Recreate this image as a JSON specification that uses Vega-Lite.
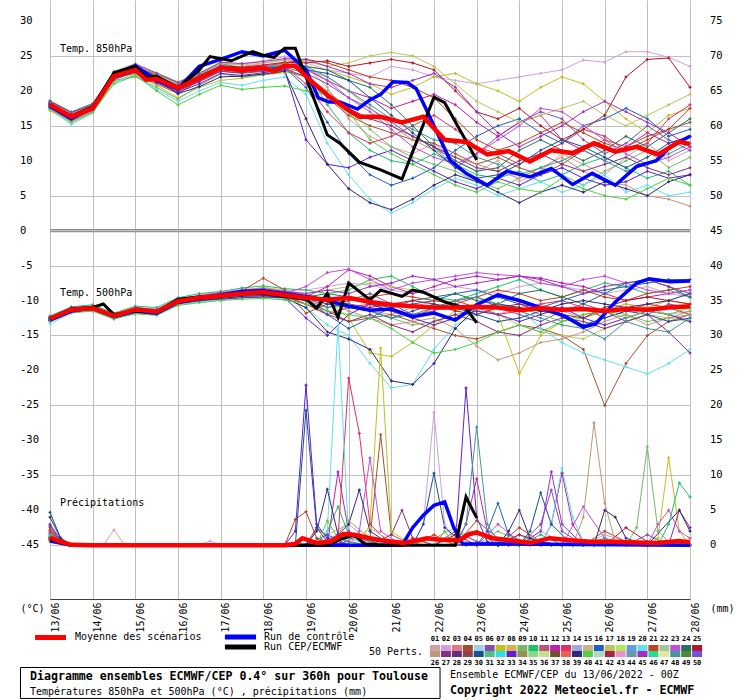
{
"$schema": "https://vega.github.io/schema/vega-lite/v6.json",
"width": 640, "height": 599,
"autosize": "none",
"padding": {"left": 50, "top": 0, "right": 50, "bottom": 101},
"background": "white",
"config": {"view": {"stroke": null}, "font": "DejaVu Sans Mono",
 "range": {"category": ["#d4a0a8","#d0a0e0","#e07880","#a05030","#a0d0e8","#8050b0","#c0c020","#d8b050","#78b868","#20c070","#c05078","#c020b0","#e03060","#a0a8e0","#c8b088","#2060c0","#c0c060","#b0e858","#60a0d8","#60e0f0","#c04020","#a0c898","#c050d8","#287060","#b01828","#c09878","#883080","#603080","#904050","#185090","#50c088","#30e0e0","#6020d0","#989050","#88d888","#c0e088","#705028","#e86058","#302878","#50d040","#b0d8c0","#a02840","#e890d0","#6898b0","#a030c0","#20e090","#e0e8a0","#409898","#508838","#7050e8"]}},
"datasets": {
"yt": [
{"v":30,"l":"30","r":"75"},{"v":25,"l":"25","r":"70"},{"v":20,"l":"20","r":"65"},{"v":15,"l":"15","r":"60"},{"v":10,"l":"10","r":"55"},{"v":5,"l":"5","r":"50"},{"v":0,"l":"0","r":"45"},{"v":-5,"l":"-5","r":"40"},{"v":-10,"l":"-10","r":"35"},{"v":-15,"l":"-15","r":"30"},{"v":-20,"l":"-20","r":"25"},{"v":-25,"l":"-25","r":"20"},{"v":-30,"l":"-30","r":"15"},{"v":-35,"l":"-35","r":"10"},{"v":-40,"l":"-40","r":"5"},{"v":-45,"l":"-45","r":"0"}
],
"ens": [
{"m":1,"h":0,"a":18.4,"b":-12.8},{"m":1,"h":12,"a":16.8,"b":-11.5},{"m":1,"h":24,"a":17.9,"b":-11.3},{"m":1,"h":36,"a":22.5,"b":-12.3},{"m":1,"h":48,"a":23.6,"b":-11.4},{"m":1,"h":60,"a":22.3,"b":-11.7},{"m":1,"h":72,"a":20.9,"b":-10.3},{"m":1,"h":84,"a":22.0,"b":-9.8},{"m":1,"h":96,"a":23.6,"b":-9.4},{"m":1,"h":108,"a":23.5,"b":-9.2},{"m":1,"h":120,"a":23.9,"b":-9.0},{"m":1,"h":132,"a":24.5,"b":-9.5},{"m":1,"h":144,"a":23.5,"b":-10.0},{"m":1,"h":156,"a":20.5,"b":-10.5},{"m":1,"h":168,"a":16.0,"b":-11.0},{"m":1,"h":180,"a":13.5,"b":-11.5},{"m":1,"h":192,"a":12.0,"b":-12.0},{"m":1,"h":204,"a":11.0,"b":-11.0},{"m":1,"h":216,"a":12.5,"b":-10.0},{"m":1,"h":228,"a":10.0,"b":-10.5},{"m":1,"h":240,"a":8.5,"b":-11.5},{"m":1,"h":252,"a":10.0,"b":-12.0},{"m":1,"h":264,"a":7.0,"b":-11.0},{"m":1,"h":276,"a":8.5,"b":-10.5},{"m":1,"h":288,"a":11.0,"b":-11.5},{"m":1,"h":300,"a":9.5,"b":-12.5},{"m":1,"h":312,"a":8.0,"b":-11.5},{"m":1,"h":324,"a":10.5,"b":-10.5},{"m":1,"h":336,"a":12.5,"b":-11.0},{"m":1,"h":348,"a":10.0,"b":-12.0},{"m":1,"h":360,"a":11.5,"b":-11.5},
{"m":2,"h":0,"a":17.6,"b":-12.3},{"m":2,"h":12,"a":15.9,"b":-11.0},{"m":2,"h":24,"a":17.1,"b":-10.8},{"m":2,"h":36,"a":21.8,"b":-11.9},{"m":2,"h":48,"a":22.8,"b":-11.0},{"m":2,"h":60,"a":22.1,"b":-11.2},{"m":2,"h":72,"a":21.0,"b":-9.8},{"m":2,"h":84,"a":22.6,"b":-9.2},{"m":2,"h":96,"a":23.8,"b":-8.8},{"m":2,"h":108,"a":23.8,"b":-8.4},{"m":2,"h":120,"a":24.3,"b":-8.2},{"m":2,"h":132,"a":24.9,"b":-8.5},{"m":2,"h":144,"a":24.0,"b":-8.5},{"m":2,"h":156,"a":23.0,"b":-8.0},{"m":2,"h":168,"a":22.5,"b":-7.5},{"m":2,"h":180,"a":22.0,"b":-7.8},{"m":2,"h":192,"a":23.5,"b":-8.5},{"m":2,"h":204,"a":23.0,"b":-9.0},{"m":2,"h":216,"a":22.0,"b":-8.5},{"m":2,"h":228,"a":21.5,"b":-8.0},{"m":2,"h":240,"a":21.0,"b":-8.5},{"m":2,"h":252,"a":21.5,"b":-9.0},{"m":2,"h":264,"a":22.0,"b":-8.0},{"m":2,"h":276,"a":22.5,"b":-7.5},{"m":2,"h":288,"a":23.0,"b":-8.0},{"m":2,"h":300,"a":24.4,"b":-8.5},{"m":2,"h":312,"a":24.1,"b":-9.0},{"m":2,"h":324,"a":25.6,"b":-8.5},{"m":2,"h":336,"a":25.6,"b":-8.0},{"m":2,"h":348,"a":24.8,"b":-9.0},{"m":2,"h":360,"a":23.5,"b":-9.5},
{"m":4,"h":0,"a":18.2,"b":-12.5},{"m":4,"h":12,"a":16.0,"b":-11.4},{"m":4,"h":24,"a":17.4,"b":-11.2},{"m":4,"h":36,"a":21.9,"b":-12.1},{"m":4,"h":48,"a":22.5,"b":-11.5},{"m":4,"h":60,"a":21.0,"b":-11.8},{"m":4,"h":72,"a":19.6,"b":-10.4},{"m":4,"h":84,"a":21.5,"b":-9.9},{"m":4,"h":96,"a":22.8,"b":-9.6},{"m":4,"h":108,"a":22.5,"b":-9.3},{"m":4,"h":120,"a":22.8,"b":-9.2},{"m":4,"h":132,"a":22.9,"b":-9.5},{"m":4,"h":144,"a":22.0,"b":-10.5},{"m":4,"h":156,"a":19.0,"b":-12.0},{"m":4,"h":168,"a":16.5,"b":-13.0},{"m":4,"h":180,"a":15.0,"b":-12.5},{"m":4,"h":192,"a":14.0,"b":-12.0},{"m":4,"h":204,"a":13.0,"b":-13.0},{"m":4,"h":216,"a":12.5,"b":-14.0},{"m":4,"h":228,"a":11.0,"b":-15.0},{"m":4,"h":240,"a":9.5,"b":-15.5},{"m":4,"h":252,"a":10.5,"b":-14.5},{"m":4,"h":264,"a":9.0,"b":-13.5},{"m":4,"h":276,"a":8.0,"b":-14.0},{"m":4,"h":288,"a":9.5,"b":-15.0},{"m":4,"h":300,"a":11.5,"b":-17.0},{"m":4,"h":312,"a":13.0,"b":-25.0},{"m":4,"h":324,"a":12.0,"b":-19.0},{"m":4,"h":336,"a":13.5,"b":-15.0},{"m":4,"h":348,"a":14.5,"b":-13.0},{"m":4,"h":360,"a":15.5,"b":-12.0},
{"m":6,"h":0,"a":17.9,"b":-12.7},{"m":6,"h":12,"a":16.5,"b":-11.2},{"m":6,"h":24,"a":17.6,"b":-11.0},{"m":6,"h":36,"a":22.0,"b":-12.4},{"m":6,"h":48,"a":23.2,"b":-11.2},{"m":6,"h":60,"a":21.8,"b":-11.4},{"m":6,"h":72,"a":20.5,"b":-10.0},{"m":6,"h":84,"a":22.0,"b":-9.5},{"m":6,"h":96,"a":23.5,"b":-9.1},{"m":6,"h":108,"a":22.8,"b":-8.9},{"m":6,"h":120,"a":23.6,"b":-8.5},{"m":6,"h":132,"a":23.4,"b":-9.0},{"m":6,"h":144,"a":22.5,"b":-9.5},{"m":6,"h":156,"a":21.0,"b":-11.0},{"m":6,"h":168,"a":19.0,"b":-10.0},{"m":6,"h":180,"a":17.5,"b":-9.0},{"m":6,"h":192,"a":15.5,"b":-10.5},{"m":6,"h":204,"a":13.5,"b":-12.0},{"m":6,"h":216,"a":12.0,"b":-11.5},{"m":6,"h":228,"a":9.0,"b":-10.0},{"m":6,"h":240,"a":11.0,"b":-9.5},{"m":6,"h":252,"a":13.5,"b":-11.0},{"m":6,"h":264,"a":15.5,"b":-12.0},{"m":6,"h":276,"a":17.0,"b":-13.0},{"m":6,"h":288,"a":16.0,"b":-11.5},{"m":6,"h":300,"a":13.0,"b":-10.5},{"m":6,"h":312,"a":11.0,"b":-11.5},{"m":6,"h":324,"a":12.5,"b":-13.0},{"m":6,"h":336,"a":15.0,"b":-12.0},{"m":6,"h":348,"a":13.0,"b":-10.5},{"m":6,"h":360,"a":11.5,"b":-11.0},
{"m":7,"h":0,"a":17.2,"b":-12.4},{"m":7,"h":12,"a":15.4,"b":-11.2},{"m":7,"h":24,"a":16.9,"b":-10.9},{"m":7,"h":36,"a":21.3,"b":-12.0},{"m":7,"h":48,"a":22.4,"b":-11.1},{"m":7,"h":60,"a":20.8,"b":-11.5},{"m":7,"h":72,"a":19.0,"b":-9.9},{"m":7,"h":84,"a":20.5,"b":-9.4},{"m":7,"h":96,"a":21.5,"b":-9.0},{"m":7,"h":108,"a":21.8,"b":-8.6},{"m":7,"h":120,"a":22.3,"b":-8.1},{"m":7,"h":132,"a":22.6,"b":-8.6},{"m":7,"h":144,"a":23.5,"b":-9.0},{"m":7,"h":156,"a":23.0,"b":-10.0},{"m":7,"h":168,"a":22.0,"b":-12.5},{"m":7,"h":180,"a":21.0,"b":-17.5},{"m":7,"h":192,"a":19.5,"b":-18.0},{"m":7,"h":204,"a":20.5,"b":-16.0},{"m":7,"h":216,"a":22.0,"b":-13.5},{"m":7,"h":228,"a":22.5,"b":-11.5},{"m":7,"h":240,"a":21.0,"b":-10.5},{"m":7,"h":252,"a":20.0,"b":-12.0},{"m":7,"h":264,"a":18.5,"b":-20.5},{"m":7,"h":276,"a":20.5,"b":-15.0},{"m":7,"h":288,"a":22.0,"b":-13.0},{"m":7,"h":300,"a":21.0,"b":-12.0},{"m":7,"h":312,"a":18.5,"b":-11.5},{"m":7,"h":324,"a":16.0,"b":-10.5},{"m":7,"h":336,"a":14.0,"b":-11.0},{"m":7,"h":348,"a":16.5,"b":-10.0},{"m":7,"h":360,"a":17.5,"b":-10.5},
{"m":9,"h":0,"a":17.8,"b":-12.9},{"m":9,"h":12,"a":16.6,"b":-11.6},{"m":9,"h":24,"a":17.8,"b":-11.4},{"m":9,"h":36,"a":21.5,"b":-12.5},{"m":9,"h":48,"a":22.0,"b":-11.6},{"m":9,"h":60,"a":20.5,"b":-11.9},{"m":9,"h":72,"a":18.8,"b":-10.5},{"m":9,"h":84,"a":20.8,"b":-10.0},{"m":9,"h":96,"a":22.4,"b":-9.7},{"m":9,"h":108,"a":22.0,"b":-9.5},{"m":9,"h":120,"a":22.3,"b":-9.4},{"m":9,"h":132,"a":22.8,"b":-9.7},{"m":9,"h":144,"a":22.0,"b":-10.0},{"m":9,"h":156,"a":20.0,"b":-9.5},{"m":9,"h":168,"a":17.5,"b":-10.5},{"m":9,"h":180,"a":14.5,"b":-11.5},{"m":9,"h":192,"a":12.0,"b":-12.5},{"m":9,"h":204,"a":10.5,"b":-13.5},{"m":9,"h":216,"a":9.5,"b":-13.0},{"m":9,"h":228,"a":8.5,"b":-12.0},{"m":9,"h":240,"a":7.0,"b":-11.5},{"m":9,"h":252,"a":6.0,"b":-10.5},{"m":9,"h":264,"a":7.5,"b":-11.0},{"m":9,"h":276,"a":9.0,"b":-12.0},{"m":9,"h":288,"a":8.0,"b":-13.0},{"m":9,"h":300,"a":6.5,"b":-12.5},{"m":9,"h":312,"a":8.5,"b":-11.5},{"m":9,"h":324,"a":10.0,"b":-12.0},{"m":9,"h":336,"a":11.5,"b":-13.0},{"m":9,"h":348,"a":9.0,"b":-12.5},{"m":9,"h":360,"a":10.5,"b":-11.5},
{"m":10,"h":0,"a":18.6,"b":-12.2},{"m":10,"h":12,"a":17.0,"b":-10.9},{"m":10,"h":24,"a":18.2,"b":-10.6},{"m":10,"h":36,"a":22.6,"b":-11.8},{"m":10,"h":48,"a":23.4,"b":-10.8},{"m":10,"h":60,"a":22.4,"b":-11.0},{"m":10,"h":72,"a":21.1,"b":-9.6},{"m":10,"h":84,"a":22.3,"b":-9.0},{"m":10,"h":96,"a":23.9,"b":-8.7},{"m":10,"h":108,"a":23.3,"b":-8.2},{"m":10,"h":120,"a":23.5,"b":-7.9},{"m":10,"h":132,"a":24.0,"b":-8.3},{"m":10,"h":144,"a":23.0,"b":-8.5},{"m":10,"h":156,"a":18.0,"b":-9.0},{"m":10,"h":168,"a":14.0,"b":-8.5},{"m":10,"h":180,"a":11.5,"b":-7.0},{"m":10,"h":192,"a":10.0,"b":-6.5},{"m":10,"h":204,"a":9.5,"b":-8.0},{"m":10,"h":216,"a":11.0,"b":-9.5},{"m":10,"h":228,"a":9.5,"b":-10.0},{"m":10,"h":240,"a":8.0,"b":-9.0},{"m":10,"h":252,"a":7.5,"b":-8.0},{"m":10,"h":264,"a":8.5,"b":-7.0},{"m":10,"h":276,"a":7.0,"b":-8.5},{"m":10,"h":288,"a":8.0,"b":-9.5},{"m":10,"h":300,"a":9.5,"b":-8.5},{"m":10,"h":312,"a":10.5,"b":-7.5},{"m":10,"h":324,"a":9.0,"b":-8.0},{"m":10,"h":336,"a":7.5,"b":-9.0},{"m":10,"h":348,"a":8.5,"b":-8.5},{"m":10,"h":360,"a":6.5,"b":-9.5},
{"m":12,"h":0,"a":18.0,"b":-12.6},{"m":12,"h":12,"a":16.1,"b":-11.3},{"m":12,"h":24,"a":17.3,"b":-11.1},{"m":12,"h":36,"a":22.4,"b":-12.3},{"m":12,"h":48,"a":23.3,"b":-11.3},{"m":12,"h":60,"a":21.9,"b":-11.7},{"m":12,"h":72,"a":20.2,"b":-10.2},{"m":12,"h":84,"a":21.5,"b":-9.7},{"m":12,"h":96,"a":23.1,"b":-9.2},{"m":12,"h":108,"a":23.2,"b":-9.0},{"m":12,"h":120,"a":23.4,"b":-8.8},{"m":12,"h":132,"a":23.8,"b":-9.1},{"m":12,"h":144,"a":23.2,"b":-9.5},{"m":12,"h":156,"a":21.5,"b":-8.0},{"m":12,"h":168,"a":20.0,"b":-5.6},{"m":12,"h":180,"a":19.0,"b":-6.5},{"m":12,"h":192,"a":17.5,"b":-8.0},{"m":12,"h":204,"a":18.5,"b":-9.0},{"m":12,"h":216,"a":19.5,"b":-8.0},{"m":12,"h":228,"a":18.0,"b":-7.0},{"m":12,"h":240,"a":15.5,"b":-6.5},{"m":12,"h":252,"a":13.5,"b":-7.0},{"m":12,"h":264,"a":15.5,"b":-6.5},{"m":12,"h":276,"a":16.5,"b":-6.8},{"m":12,"h":288,"a":13.0,"b":-7.5},{"m":12,"h":300,"a":11.5,"b":-8.0},{"m":12,"h":312,"a":10.0,"b":-9.0},{"m":12,"h":324,"a":12.0,"b":-10.0},{"m":12,"h":336,"a":14.0,"b":-9.5},{"m":12,"h":348,"a":12.5,"b":-9.0},{"m":12,"h":360,"a":13.5,"b":-8.5},
{"m":13,"h":0,"a":17.5,"b":-12.7},{"m":13,"h":12,"a":15.7,"b":-11.4},{"m":13,"h":24,"a":17.0,"b":-11.2},{"m":13,"h":36,"a":21.7,"b":-12.2},{"m":13,"h":48,"a":22.9,"b":-11.4},{"m":13,"h":60,"a":21.4,"b":-11.6},{"m":13,"h":72,"a":20.0,"b":-10.2},{"m":13,"h":84,"a":21.4,"b":-9.8},{"m":13,"h":96,"a":23.0,"b":-9.5},{"m":13,"h":108,"a":22.7,"b":-9.1},{"m":13,"h":120,"a":23.1,"b":-9.0},{"m":13,"h":132,"a":23.5,"b":-9.3},{"m":13,"h":144,"a":21.0,"b":-10.5},{"m":13,"h":156,"a":17.0,"b":-12.0},{"m":13,"h":168,"a":14.0,"b":-11.0},{"m":13,"h":180,"a":12.5,"b":-10.5},{"m":13,"h":192,"a":13.5,"b":-11.5},{"m":13,"h":204,"a":15.0,"b":-12.5},{"m":13,"h":216,"a":16.5,"b":-11.0},{"m":13,"h":228,"a":14.5,"b":-10.0},{"m":13,"h":240,"a":12.0,"b":-11.0},{"m":13,"h":252,"a":11.0,"b":-12.0},{"m":13,"h":264,"a":9.5,"b":-11.5},{"m":13,"h":276,"a":11.0,"b":-10.5},{"m":13,"h":288,"a":12.5,"b":-10.0},{"m":13,"h":300,"a":14.5,"b":-11.0},{"m":13,"h":312,"a":13.5,"b":-12.5},{"m":13,"h":324,"a":11.5,"b":-11.5},{"m":13,"h":336,"a":12.5,"b":-10.5},{"m":13,"h":348,"a":16.0,"b":-11.0},{"m":13,"h":360,"a":18.0,"b":-12.0},
{"m":16,"h":0,"a":18.1,"b":-12.5},{"m":16,"h":12,"a":16.4,"b":-11.2},{"m":16,"h":24,"a":17.6,"b":-11.0},{"m":16,"h":36,"a":22.2,"b":-12.1},{"m":16,"h":48,"a":23.1,"b":-11.2},{"m":16,"h":60,"a":21.6,"b":-11.5},{"m":16,"h":72,"a":20.3,"b":-10.0},{"m":16,"h":84,"a":21.9,"b":-9.5},{"m":16,"h":96,"a":23.4,"b":-9.2},{"m":16,"h":108,"a":22.9,"b":-8.9},{"m":16,"h":120,"a":23.2,"b":-8.6},{"m":16,"h":132,"a":23.3,"b":-9.0},{"m":16,"h":144,"a":20.5,"b":-9.8},{"m":16,"h":156,"a":15.5,"b":-12.0},{"m":16,"h":168,"a":11.0,"b":-14.0},{"m":16,"h":180,"a":8.0,"b":-12.5},{"m":16,"h":192,"a":6.5,"b":-11.0},{"m":16,"h":204,"a":7.5,"b":-10.5},{"m":16,"h":216,"a":9.0,"b":-10.0},{"m":16,"h":228,"a":11.5,"b":-9.0},{"m":16,"h":240,"a":13.5,"b":-8.5},{"m":16,"h":252,"a":15.0,"b":-9.5},{"m":16,"h":264,"a":16.0,"b":-10.5},{"m":16,"h":276,"a":14.0,"b":-11.0},{"m":16,"h":288,"a":12.5,"b":-10.0},{"m":16,"h":300,"a":15.0,"b":-9.0},{"m":16,"h":312,"a":16.0,"b":-8.5},{"m":16,"h":324,"a":17.5,"b":-8.0},{"m":16,"h":336,"a":16.0,"b":-7.5},{"m":16,"h":348,"a":13.5,"b":-7.0},{"m":16,"h":360,"a":14.5,"b":-7.0},
{"m":17,"h":0,"a":18.3,"b":-12.4},{"m":17,"h":12,"a":16.7,"b":-11.1},{"m":17,"h":24,"a":17.7,"b":-10.8},{"m":17,"h":36,"a":22.8,"b":-11.9},{"m":17,"h":48,"a":23.9,"b":-11.0},{"m":17,"h":60,"a":22.6,"b":-11.3},{"m":17,"h":72,"a":21.3,"b":-9.8},{"m":17,"h":84,"a":22.6,"b":-9.3},{"m":17,"h":96,"a":24.0,"b":-9.0},{"m":17,"h":108,"a":23.7,"b":-8.7},{"m":17,"h":120,"a":24.0,"b":-8.5},{"m":17,"h":132,"a":24.4,"b":-8.8},{"m":17,"h":144,"a":24.2,"b":-9.0},{"m":17,"h":156,"a":23.5,"b":-8.5},{"m":17,"h":168,"a":24.0,"b":-8.0},{"m":17,"h":180,"a":25.0,"b":-7.5},{"m":17,"h":192,"a":25.5,"b":-8.0},{"m":17,"h":204,"a":25.0,"b":-8.5},{"m":17,"h":216,"a":23.5,"b":-9.5},{"m":17,"h":228,"a":21.0,"b":-10.5},{"m":17,"h":240,"a":18.5,"b":-11.5},{"m":17,"h":252,"a":17.0,"b":-12.0},{"m":17,"h":264,"a":15.5,"b":-13.5},{"m":17,"h":276,"a":16.5,"b":-14.5},{"m":17,"h":288,"a":17.5,"b":-15.0},{"m":17,"h":300,"a":18.5,"b":-15.5},{"m":17,"h":312,"a":16.5,"b":-14.0},{"m":17,"h":324,"a":15.0,"b":-13.0},{"m":17,"h":336,"a":16.5,"b":-12.0},{"m":17,"h":348,"a":18.0,"b":-12.5},{"m":17,"h":360,"a":19.5,"b":-13.0},
{"m":20,"h":0,"a":17.4,"b":-13.3},{"m":20,"h":12,"a":15.2,"b":-11.8},{"m":20,"h":24,"a":16.8,"b":-11.5},{"m":20,"h":36,"a":21.2,"b":-12.7},{"m":20,"h":48,"a":22.3,"b":-11.8},{"m":20,"h":60,"a":20.2,"b":-12.1},{"m":20,"h":72,"a":18.5,"b":-10.6},{"m":20,"h":84,"a":20.0,"b":-10.2},{"m":20,"h":96,"a":21.2,"b":-9.9},{"m":20,"h":108,"a":20.8,"b":-9.6},{"m":20,"h":120,"a":21.5,"b":-9.5},{"m":20,"h":132,"a":22.0,"b":-9.8},{"m":20,"h":144,"a":19.5,"b":-11.0},{"m":20,"h":156,"a":12.5,"b":-13.5},{"m":20,"h":168,"a":8.0,"b":-15.0},{"m":20,"h":180,"a":4.5,"b":-19.0},{"m":20,"h":192,"a":2.5,"b":-22.5},{"m":20,"h":204,"a":4.0,"b":-22.0},{"m":20,"h":216,"a":6.0,"b":-17.0},{"m":20,"h":228,"a":7.5,"b":-13.5},{"m":20,"h":240,"a":6.5,"b":-12.0},{"m":20,"h":252,"a":5.0,"b":-10.5},{"m":20,"h":264,"a":6.0,"b":-11.0},{"m":20,"h":276,"a":7.0,"b":-14.0},{"m":20,"h":288,"a":5.5,"b":-16.0},{"m":20,"h":300,"a":6.5,"b":-17.5},{"m":20,"h":312,"a":8.0,"b":-18.5},{"m":20,"h":324,"a":5.5,"b":-19.5},{"m":20,"h":336,"a":6.5,"b":-20.5},{"m":20,"h":348,"a":5.0,"b":-19.0},{"m":20,"h":360,"a":5.5,"b":-17.0},
{"m":21,"h":0,"a":18.5,"b":-12.5},{"m":21,"h":12,"a":16.9,"b":-11.1},{"m":21,"h":24,"a":18.0,"b":-10.9},{"m":21,"h":36,"a":22.3,"b":-12.0},{"m":21,"h":48,"a":23.4,"b":-11.1},{"m":21,"h":60,"a":22.2,"b":-11.4},{"m":21,"h":72,"a":20.7,"b":-9.9},{"m":21,"h":84,"a":22.1,"b":-9.4},{"m":21,"h":96,"a":23.5,"b":-9.0},{"m":21,"h":108,"a":23.3,"b":-8.6},{"m":21,"h":120,"a":23.5,"b":-6.8},{"m":21,"h":132,"a":24.0,"b":-8.5},{"m":21,"h":144,"a":24.5,"b":-11.8},{"m":21,"h":156,"a":24.0,"b":-10.5},{"m":21,"h":168,"a":23.0,"b":-10.0},{"m":21,"h":180,"a":22.0,"b":-9.5},{"m":21,"h":192,"a":21.5,"b":-9.0},{"m":21,"h":204,"a":20.5,"b":-9.5},{"m":21,"h":216,"a":19.0,"b":-10.0},{"m":21,"h":228,"a":16.0,"b":-10.5},{"m":21,"h":240,"a":13.0,"b":-9.5},{"m":21,"h":252,"a":11.5,"b":-8.5},{"m":21,"h":264,"a":12.5,"b":-9.0},{"m":21,"h":276,"a":14.0,"b":-10.0},{"m":21,"h":288,"a":15.5,"b":-9.5},{"m":21,"h":300,"a":14.0,"b":-8.5},{"m":21,"h":312,"a":12.5,"b":-9.5},{"m":21,"h":324,"a":11.5,"b":-10.0},{"m":21,"h":336,"a":13.0,"b":-9.0},{"m":21,"h":348,"a":14.5,"b":-8.5},{"m":21,"h":360,"a":17.5,"b":-8.0},
{"m":23,"h":0,"a":18.0,"b":-12.6},{"m":23,"h":12,"a":16.2,"b":-11.4},{"m":23,"h":24,"a":17.5,"b":-11.0},{"m":23,"h":36,"a":22.0,"b":-12.2},{"m":23,"h":48,"a":23.1,"b":-11.3},{"m":23,"h":60,"a":22.0,"b":-11.6},{"m":23,"h":72,"a":20.6,"b":-10.1},{"m":23,"h":84,"a":21.8,"b":-9.7},{"m":23,"h":96,"a":23.2,"b":-9.3},{"m":23,"h":108,"a":23.0,"b":-8.9},{"m":23,"h":120,"a":23.6,"b":-8.7},{"m":23,"h":132,"a":23.7,"b":-9.0},{"m":23,"h":144,"a":23.0,"b":-8.0},{"m":23,"h":156,"a":21.5,"b":-6.0},{"m":23,"h":168,"a":19.0,"b":-5.5},{"m":23,"h":180,"a":17.0,"b":-7.0},{"m":23,"h":192,"a":14.5,"b":-8.5},{"m":23,"h":204,"a":12.0,"b":-7.5},{"m":23,"h":216,"a":10.5,"b":-7.0},{"m":23,"h":228,"a":9.5,"b":-6.5},{"m":23,"h":240,"a":11.0,"b":-6.0},{"m":23,"h":252,"a":13.0,"b":-6.3},{"m":23,"h":264,"a":15.0,"b":-6.5},{"m":23,"h":276,"a":17.5,"b":-7.5},{"m":23,"h":288,"a":17.0,"b":-8.0},{"m":23,"h":300,"a":15.0,"b":-7.0},{"m":23,"h":312,"a":13.0,"b":-6.5},{"m":23,"h":324,"a":11.0,"b":-7.5},{"m":23,"h":336,"a":9.5,"b":-8.5},{"m":23,"h":348,"a":10.5,"b":-9.0},{"m":23,"h":360,"a":12.0,"b":-8.5},
{"m":24,"h":0,"a":17.7,"b":-12.8},{"m":24,"h":12,"a":16.1,"b":-11.6},{"m":24,"h":24,"a":17.2,"b":-11.3},{"m":24,"h":36,"a":21.9,"b":-12.4},{"m":24,"h":48,"a":22.8,"b":-11.5},{"m":24,"h":60,"a":21.5,"b":-11.8},{"m":24,"h":72,"a":20.3,"b":-10.3},{"m":24,"h":84,"a":21.7,"b":-9.7},{"m":24,"h":96,"a":23.1,"b":-9.4},{"m":24,"h":108,"a":22.8,"b":-9.1},{"m":24,"h":120,"a":23.0,"b":-9.0},{"m":24,"h":132,"a":23.4,"b":-9.3},{"m":24,"h":144,"a":23.5,"b":-9.5},{"m":24,"h":156,"a":23.0,"b":-9.0},{"m":24,"h":168,"a":21.5,"b":-9.5},{"m":24,"h":180,"a":20.5,"b":-10.5},{"m":24,"h":192,"a":18.0,"b":-11.0},{"m":24,"h":204,"a":15.0,"b":-10.0},{"m":24,"h":216,"a":12.0,"b":-9.5},{"m":24,"h":228,"a":10.0,"b":-9.0},{"m":24,"h":240,"a":8.5,"b":-10.0},{"m":24,"h":252,"a":9.0,"b":-10.5},{"m":24,"h":264,"a":11.5,"b":-9.0},{"m":24,"h":276,"a":13.0,"b":-8.5},{"m":24,"h":288,"a":11.5,"b":-9.5},{"m":24,"h":300,"a":10.0,"b":-10.5},{"m":24,"h":312,"a":11.5,"b":-9.0},{"m":24,"h":324,"a":13.5,"b":-7.5},{"m":24,"h":336,"a":12.0,"b":-7.0},{"m":24,"h":348,"a":14.0,"b":-8.0},{"m":24,"h":360,"a":16.0,"b":-9.5},
{"m":25,"h":0,"a":18.2,"b":-12.4},{"m":25,"h":12,"a":16.5,"b":-11.1},{"m":25,"h":24,"a":17.7,"b":-10.9},{"m":25,"h":36,"a":22.5,"b":-12.0},{"m":25,"h":48,"a":23.5,"b":-11.2},{"m":25,"h":60,"a":22.0,"b":-11.4},{"m":25,"h":72,"a":20.8,"b":-10.0},{"m":25,"h":84,"a":22.2,"b":-9.5},{"m":25,"h":96,"a":23.6,"b":-9.1},{"m":25,"h":108,"a":23.4,"b":-8.8},{"m":25,"h":120,"a":23.7,"b":-8.6},{"m":25,"h":132,"a":24.1,"b":-8.9},{"m":25,"h":144,"a":24.0,"b":-9.5},{"m":25,"h":156,"a":24.3,"b":-10.0},{"m":25,"h":168,"a":23.5,"b":-10.5},{"m":25,"h":180,"a":24.0,"b":-11.0},{"m":25,"h":192,"a":24.5,"b":-10.5},{"m":25,"h":204,"a":24.0,"b":-10.0},{"m":25,"h":216,"a":23.0,"b":-10.5},{"m":25,"h":228,"a":20.0,"b":-11.5},{"m":25,"h":240,"a":17.0,"b":-12.0},{"m":25,"h":252,"a":16.0,"b":-11.0},{"m":25,"h":264,"a":17.5,"b":-10.5},{"m":25,"h":276,"a":15.0,"b":-11.5},{"m":25,"h":288,"a":13.0,"b":-12.0},{"m":25,"h":300,"a":14.5,"b":-12.5},{"m":25,"h":312,"a":16.5,"b":-11.0},{"m":25,"h":324,"a":22.0,"b":-10.0},{"m":25,"h":336,"a":24.5,"b":-9.5},{"m":25,"h":348,"a":24.7,"b":-10.0},{"m":25,"h":360,"a":20.5,"b":-10.5},
{"m":26,"h":0,"a":18.3,"b":-12.5},{"m":26,"h":12,"a":16.6,"b":-11.3},{"m":26,"h":24,"a":17.9,"b":-11.1},{"m":26,"h":36,"a":22.2,"b":-12.2},{"m":26,"h":48,"a":23.0,"b":-11.2},{"m":26,"h":60,"a":21.9,"b":-11.6},{"m":26,"h":72,"a":20.6,"b":-10.2},{"m":26,"h":84,"a":22.0,"b":-9.6},{"m":26,"h":96,"a":23.4,"b":-9.3},{"m":26,"h":108,"a":23.0,"b":-9.0},{"m":26,"h":120,"a":23.3,"b":-8.9},{"m":26,"h":132,"a":23.9,"b":-9.2},{"m":26,"h":144,"a":23.0,"b":-9.5},{"m":26,"h":156,"a":22.0,"b":-10.0},{"m":26,"h":168,"a":20.0,"b":-11.5},{"m":26,"h":180,"a":17.5,"b":-12.5},{"m":26,"h":192,"a":15.0,"b":-13.5},{"m":26,"h":204,"a":13.0,"b":-13.0},{"m":26,"h":216,"a":11.5,"b":-12.5},{"m":26,"h":228,"a":10.5,"b":-14.0},{"m":26,"h":240,"a":9.5,"b":-16.5},{"m":26,"h":252,"a":8.5,"b":-18.5},{"m":26,"h":264,"a":7.5,"b":-17.5},{"m":26,"h":276,"a":9.0,"b":-16.0},{"m":26,"h":288,"a":10.5,"b":-15.5},{"m":26,"h":300,"a":8.5,"b":-14.5},{"m":26,"h":312,"a":7.0,"b":-13.0},{"m":26,"h":324,"a":6.5,"b":-12.0},{"m":26,"h":336,"a":5.0,"b":-13.5},{"m":26,"h":348,"a":4.5,"b":-12.5},{"m":26,"h":360,"a":3.5,"b":-12.0},
{"m":27,"h":0,"a":17.9,"b":-12.7},{"m":27,"h":12,"a":16.0,"b":-11.5},{"m":27,"h":24,"a":17.4,"b":-11.2},{"m":27,"h":36,"a":21.6,"b":-12.4},{"m":27,"h":48,"a":22.7,"b":-11.5},{"m":27,"h":60,"a":21.3,"b":-11.7},{"m":27,"h":72,"a":20.0,"b":-10.3},{"m":27,"h":84,"a":21.3,"b":-9.7},{"m":27,"h":96,"a":22.8,"b":-9.4},{"m":27,"h":108,"a":22.6,"b":-9.2},{"m":27,"h":120,"a":22.9,"b":-9.1},{"m":27,"h":132,"a":23.2,"b":-9.4},{"m":27,"h":144,"a":22.0,"b":-10.0},{"m":27,"h":156,"a":19.5,"b":-11.5},{"m":27,"h":168,"a":17.5,"b":-13.0},{"m":27,"h":180,"a":16.0,"b":-12.0},{"m":27,"h":192,"a":15.0,"b":-13.5},{"m":27,"h":204,"a":13.5,"b":-14.5},{"m":27,"h":216,"a":12.0,"b":-13.0},{"m":27,"h":228,"a":10.5,"b":-12.0},{"m":27,"h":240,"a":9.0,"b":-13.0},{"m":27,"h":252,"a":8.5,"b":-14.5},{"m":27,"h":264,"a":10.0,"b":-15.0},{"m":27,"h":276,"a":11.0,"b":-13.5},{"m":27,"h":288,"a":9.5,"b":-12.5},{"m":27,"h":300,"a":8.5,"b":-13.0},{"m":27,"h":312,"a":9.5,"b":-14.0},{"m":27,"h":324,"a":10.5,"b":-13.0},{"m":27,"h":336,"a":9.0,"b":-12.0},{"m":27,"h":348,"a":8.0,"b":-14.5},{"m":27,"h":360,"a":9.0,"b":-17.5},
{"m":30,"h":0,"a":18.1,"b":-12.6},{"m":30,"h":12,"a":16.6,"b":-11.3},{"m":30,"h":24,"a":17.8,"b":-11.1},{"m":30,"h":36,"a":22.1,"b":-12.2},{"m":30,"h":48,"a":22.9,"b":-11.3},{"m":30,"h":60,"a":21.6,"b":-11.5},{"m":30,"h":72,"a":20.1,"b":-10.1},{"m":30,"h":84,"a":21.7,"b":-9.6},{"m":30,"h":96,"a":23.3,"b":-9.2},{"m":30,"h":108,"a":23.1,"b":-8.8},{"m":30,"h":120,"a":23.2,"b":-8.7},{"m":30,"h":132,"a":23.5,"b":-9.0},{"m":30,"h":144,"a":23.0,"b":-9.5},{"m":30,"h":156,"a":22.5,"b":-10.5},{"m":30,"h":168,"a":21.5,"b":-11.0},{"m":30,"h":180,"a":19.0,"b":-11.5},{"m":30,"h":192,"a":16.5,"b":-12.5},{"m":30,"h":204,"a":14.0,"b":-11.5},{"m":30,"h":216,"a":11.5,"b":-10.5},{"m":30,"h":228,"a":9.0,"b":-11.0},{"m":30,"h":240,"a":7.5,"b":-12.0},{"m":30,"h":252,"a":8.0,"b":-13.0},{"m":30,"h":264,"a":9.5,"b":-12.5},{"m":30,"h":276,"a":11.5,"b":-11.5},{"m":30,"h":288,"a":13.0,"b":-12.0},{"m":30,"h":300,"a":12.0,"b":-13.5},{"m":30,"h":312,"a":10.5,"b":-12.5},{"m":30,"h":324,"a":9.0,"b":-11.5},{"m":30,"h":336,"a":10.5,"b":-12.0},{"m":30,"h":348,"a":12.5,"b":-13.0},{"m":30,"h":360,"a":13.5,"b":-12.5},
{"m":33,"h":0,"a":17.6,"b":-12.9},{"m":33,"h":12,"a":16.0,"b":-11.7},{"m":33,"h":24,"a":17.3,"b":-11.4},{"m":33,"h":36,"a":21.8,"b":-12.5},{"m":33,"h":48,"a":22.7,"b":-11.7},{"m":33,"h":60,"a":21.2,"b":-12.0},{"m":33,"h":72,"a":19.8,"b":-10.5},{"m":33,"h":84,"a":21.0,"b":-10.0},{"m":33,"h":96,"a":22.5,"b":-9.8},{"m":33,"h":108,"a":22.2,"b":-9.6},{"m":33,"h":120,"a":22.6,"b":-9.5},{"m":33,"h":132,"a":23.0,"b":-9.6},{"m":33,"h":144,"a":13.0,"b":-12.5},{"m":33,"h":156,"a":9.5,"b":-15.0},{"m":33,"h":168,"a":9.0,"b":-12.0},{"m":33,"h":180,"a":10.5,"b":-10.5},{"m":33,"h":192,"a":11.5,"b":-11.5},{"m":33,"h":204,"a":10.0,"b":-12.5},{"m":33,"h":216,"a":8.5,"b":-13.5},{"m":33,"h":228,"a":7.0,"b":-12.5},{"m":33,"h":240,"a":6.0,"b":-11.5},{"m":33,"h":252,"a":7.5,"b":-12.0},{"m":33,"h":264,"a":6.5,"b":-13.0},{"m":33,"h":276,"a":8.0,"b":-12.0},{"m":33,"h":288,"a":9.0,"b":-11.0},{"m":33,"h":300,"a":7.5,"b":-12.5},{"m":33,"h":312,"a":6.5,"b":-13.5},{"m":33,"h":324,"a":7.0,"b":-12.5},{"m":33,"h":336,"a":8.5,"b":-11.5},{"m":33,"h":348,"a":7.5,"b":-12.0},{"m":33,"h":360,"a":8.0,"b":-13.0},
{"m":39,"h":0,"a":17.9,"b":-12.8},{"m":39,"h":12,"a":16.4,"b":-11.5},{"m":39,"h":24,"a":17.4,"b":-11.3},{"m":39,"h":36,"a":22.0,"b":-12.4},{"m":39,"h":48,"a":23.0,"b":-11.6},{"m":39,"h":60,"a":21.5,"b":-11.9},{"m":39,"h":72,"a":19.6,"b":-10.4},{"m":39,"h":84,"a":20.6,"b":-10.0},{"m":39,"h":96,"a":22.0,"b":-9.7},{"m":39,"h":108,"a":22.1,"b":-9.4},{"m":39,"h":120,"a":22.4,"b":-9.3},{"m":39,"h":132,"a":22.8,"b":-9.6},{"m":39,"h":144,"a":16.0,"b":-11.0},{"m":39,"h":156,"a":9.5,"b":-14.5},{"m":39,"h":168,"a":6.0,"b":-15.5},{"m":39,"h":180,"a":4.0,"b":-17.0},{"m":39,"h":192,"a":3.0,"b":-21.5},{"m":39,"h":204,"a":4.5,"b":-22.0},{"m":39,"h":216,"a":6.5,"b":-19.0},{"m":39,"h":228,"a":8.0,"b":-14.0},{"m":39,"h":240,"a":7.0,"b":-11.0},{"m":39,"h":252,"a":5.5,"b":-10.5},{"m":39,"h":264,"a":4.0,"b":-11.0},{"m":39,"h":276,"a":5.5,"b":-11.5},{"m":39,"h":288,"a":6.5,"b":-10.5},{"m":39,"h":300,"a":5.5,"b":-10.0},{"m":39,"h":312,"a":7.0,"b":-10.5},{"m":39,"h":324,"a":6.0,"b":-11.0},{"m":39,"h":336,"a":5.0,"b":-10.5},{"m":39,"h":348,"a":7.0,"b":-10.0},{"m":39,"h":360,"a":8.0,"b":-9.0},
{"m":40,"h":0,"a":17.3,"b":-13.0},{"m":40,"h":12,"a":15.6,"b":-11.7},{"m":40,"h":24,"a":17.0,"b":-11.5},{"m":40,"h":36,"a":21.0,"b":-12.6},{"m":40,"h":48,"a":22.2,"b":-11.9},{"m":40,"h":60,"a":20.0,"b":-12.1},{"m":40,"h":72,"a":18.0,"b":-10.7},{"m":40,"h":84,"a":19.5,"b":-10.3},{"m":40,"h":96,"a":20.8,"b":-10.0},{"m":40,"h":108,"a":20.2,"b":-9.8},{"m":40,"h":120,"a":20.5,"b":-9.7},{"m":40,"h":132,"a":20.7,"b":-9.9},{"m":40,"h":144,"a":20.0,"b":-10.5},{"m":40,"h":156,"a":19.5,"b":-11.5},{"m":40,"h":168,"a":17.0,"b":-12.0},{"m":40,"h":180,"a":13.0,"b":-12.5},{"m":40,"h":192,"a":11.0,"b":-14.0},{"m":40,"h":204,"a":9.5,"b":-16.0},{"m":40,"h":216,"a":8.0,"b":-17.5},{"m":40,"h":228,"a":6.5,"b":-17.0},{"m":40,"h":240,"a":5.5,"b":-16.0},{"m":40,"h":252,"a":7.0,"b":-14.5},{"m":40,"h":264,"a":6.0,"b":-13.5},{"m":40,"h":276,"a":5.5,"b":-14.5},{"m":40,"h":288,"a":7.5,"b":-13.0},{"m":40,"h":300,"a":6.0,"b":-12.0},{"m":40,"h":312,"a":5.0,"b":-11.5},{"m":40,"h":324,"a":4.5,"b":-12.5},{"m":40,"h":336,"a":6.0,"b":-11.5},{"m":40,"h":348,"a":7.5,"b":-12.0},{"m":40,"h":360,"a":6.5,"b":-11.0},
{"m":45,"h":0,"a":18.4,"b":-12.4},{"m":45,"h":12,"a":16.9,"b":-11.0},{"m":45,"h":24,"a":18.1,"b":-10.8},{"m":45,"h":36,"a":22.7,"b":-12.0},{"m":45,"h":48,"a":23.8,"b":-11.0},{"m":45,"h":60,"a":22.5,"b":-11.3},{"m":45,"h":72,"a":21.2,"b":-9.8},{"m":45,"h":84,"a":22.5,"b":-9.3},{"m":45,"h":96,"a":24.1,"b":-8.9},{"m":45,"h":108,"a":23.9,"b":-8.5},{"m":45,"h":120,"a":24.2,"b":-8.3},{"m":45,"h":132,"a":24.6,"b":-8.7},{"m":45,"h":144,"a":24.5,"b":-9.0},{"m":45,"h":156,"a":23.5,"b":-8.5},{"m":45,"h":168,"a":22.5,"b":-9.0},{"m":45,"h":180,"a":21.0,"b":-8.0},{"m":45,"h":192,"a":20.5,"b":-7.5},{"m":45,"h":204,"a":21.5,"b":-6.5},{"m":45,"h":216,"a":22.5,"b":-7.0},{"m":45,"h":228,"a":20.5,"b":-8.0},{"m":45,"h":240,"a":17.0,"b":-7.5},{"m":45,"h":252,"a":14.0,"b":-7.0},{"m":45,"h":264,"a":12.0,"b":-6.5},{"m":45,"h":276,"a":13.5,"b":-7.0},{"m":45,"h":288,"a":15.0,"b":-8.0},{"m":45,"h":300,"a":17.0,"b":-9.0},{"m":45,"h":312,"a":18.5,"b":-8.0},{"m":45,"h":324,"a":17.0,"b":-7.5},{"m":45,"h":336,"a":15.5,"b":-7.0},{"m":45,"h":348,"a":14.0,"b":-8.0},{"m":45,"h":360,"a":12.0,"b":-9.0},
{"m":48,"h":0,"a":17.8,"b":-12.7},{"m":48,"h":12,"a":16.2,"b":-11.4},{"m":48,"h":24,"a":17.3,"b":-11.2},{"m":48,"h":36,"a":21.9,"b":-12.3},{"m":48,"h":48,"a":23.0,"b":-11.4},{"m":48,"h":60,"a":21.7,"b":-11.7},{"m":48,"h":72,"a":20.4,"b":-10.2},{"m":48,"h":84,"a":21.9,"b":-9.7},{"m":48,"h":96,"a":23.2,"b":-9.4},{"m":48,"h":108,"a":23.0,"b":-9.1},{"m":48,"h":120,"a":23.4,"b":-8.9},{"m":48,"h":132,"a":23.6,"b":-9.3},{"m":48,"h":144,"a":23.5,"b":-10.0},{"m":48,"h":156,"a":22.0,"b":-11.0},{"m":48,"h":168,"a":20.0,"b":-10.5},{"m":48,"h":180,"a":18.0,"b":-11.5},{"m":48,"h":192,"a":16.0,"b":-12.5},{"m":48,"h":204,"a":14.5,"b":-12.0},{"m":48,"h":216,"a":13.0,"b":-11.0},{"m":48,"h":228,"a":12.5,"b":-10.0},{"m":48,"h":240,"a":10.5,"b":-9.5},{"m":48,"h":252,"a":9.5,"b":-10.5},{"m":48,"h":264,"a":8.0,"b":-11.5},{"m":48,"h":276,"a":9.0,"b":-12.5},{"m":48,"h":288,"a":10.0,"b":-13.5},{"m":48,"h":300,"a":11.5,"b":-14.0},{"m":48,"h":312,"a":10.0,"b":-15.5},{"m":48,"h":324,"a":8.5,"b":-13.0},{"m":48,"h":336,"a":9.5,"b":-14.0},{"m":48,"h":348,"a":11.0,"b":-14.5},{"m":48,"h":360,"a":12.5,"b":-12.5}
],
"pr": [
{"m":1,"h":0,"p":1.0},{"m":1,"h":12,"p":0},{"m":1,"h":30,"p":0},{"m":1,"h":36,"p":2.2},{"m":1,"h":42,"p":0},{"m":1,"h":144,"p":0},{"m":1,"h":156,"p":1.5},{"m":1,"h":168,"p":3.0},{"m":1,"h":180,"p":0.5},{"m":1,"h":192,"p":0},{"m":1,"h":216,"p":1.0},{"m":1,"h":228,"p":2.5},{"m":1,"h":240,"p":0.5},{"m":1,"h":252,"p":0},{"m":1,"h":300,"p":0},{"m":1,"h":312,"p":1.5},{"m":1,"h":324,"p":0.5},{"m":1,"h":336,"p":0},{"m":1,"h":360,"p":0},
{"m":2,"h":0,"p":0.5},{"m":2,"h":12,"p":0},{"m":2,"h":84,"p":0},{"m":2,"h":90,"p":0.6},{"m":2,"h":96,"p":0},{"m":2,"h":204,"p":0},{"m":2,"h":210,"p":3.0},{"m":2,"h":216,"p":19.0},{"m":2,"h":222,"p":3.0},{"m":2,"h":228,"p":0.5},{"m":2,"h":264,"p":0},{"m":2,"h":276,"p":2.0},{"m":2,"h":288,"p":0.5},{"m":2,"h":300,"p":0},{"m":2,"h":360,"p":0},
{"m":4,"h":0,"p":2.0},{"m":4,"h":6,"p":0.4},{"m":4,"h":12,"p":0},{"m":4,"h":174,"p":0},{"m":4,"h":180,"p":1.0},{"m":4,"h":186,"p":15.8},{"m":4,"h":192,"p":1.5},{"m":4,"h":204,"p":0},{"m":4,"h":228,"p":0},{"m":4,"h":240,"p":3.5},{"m":4,"h":252,"p":1.0},{"m":4,"h":264,"p":0},{"m":4,"h":300,"p":0},{"m":4,"h":312,"p":2.0},{"m":4,"h":324,"p":0.5},{"m":4,"h":336,"p":0},{"m":4,"h":360,"p":0},
{"m":6,"h":0,"p":1.5},{"m":6,"h":12,"p":0},{"m":6,"h":150,"p":0},{"m":6,"h":162,"p":1.5},{"m":6,"h":168,"p":0.5},{"m":6,"h":180,"p":0},{"m":6,"h":216,"p":0},{"m":6,"h":228,"p":2.0},{"m":6,"h":240,"p":0.5},{"m":6,"h":264,"p":0},{"m":6,"h":276,"p":3.0},{"m":6,"h":282,"p":7.9},{"m":6,"h":288,"p":2.0},{"m":6,"h":300,"p":0},{"m":6,"h":324,"p":0},{"m":6,"h":336,"p":1.5},{"m":6,"h":348,"p":0},{"m":6,"h":360,"p":0},
{"m":7,"h":0,"p":0.8},{"m":7,"h":12,"p":0},{"m":7,"h":174,"p":0},{"m":7,"h":180,"p":3.0},{"m":7,"h":186,"p":28.2},{"m":7,"h":192,"p":2.0},{"m":7,"h":204,"p":0},{"m":7,"h":216,"p":1.0},{"m":7,"h":228,"p":0},{"m":7,"h":336,"p":0},{"m":7,"h":342,"p":1.0},{"m":7,"h":348,"p":12.5},{"m":7,"h":354,"p":2.0},{"m":7,"h":360,"p":0},
{"m":9,"h":0,"p":1.2},{"m":9,"h":12,"p":0},{"m":9,"h":156,"p":0},{"m":9,"h":168,"p":3.5},{"m":9,"h":180,"p":1.0},{"m":9,"h":192,"p":0},{"m":9,"h":240,"p":0},{"m":9,"h":252,"p":2.0},{"m":9,"h":264,"p":0.5},{"m":9,"h":276,"p":0},{"m":9,"h":324,"p":0},{"m":9,"h":330,"p":2.5},{"m":9,"h":336,"p":14.1},{"m":9,"h":342,"p":2.0},{"m":9,"h":348,"p":0.5},{"m":9,"h":360,"p":0},
{"m":10,"h":0,"p":0.6},{"m":10,"h":12,"p":0},{"m":10,"h":150,"p":0},{"m":10,"h":156,"p":2.0},{"m":10,"h":162,"p":5.5},{"m":10,"h":168,"p":1.5},{"m":10,"h":180,"p":0.5},{"m":10,"h":192,"p":0},{"m":10,"h":264,"p":0},{"m":10,"h":276,"p":1.5},{"m":10,"h":288,"p":0},{"m":10,"h":342,"p":0},{"m":10,"h":348,"p":3.0},{"m":10,"h":354,"p":8.9},{"m":10,"h":360,"p":6.9},
{"m":12,"h":0,"p":2.5},{"m":12,"h":6,"p":0.5},{"m":12,"h":12,"p":0},{"m":12,"h":156,"p":0},{"m":12,"h":162,"p":10.5},{"m":12,"h":168,"p":2.0},{"m":12,"h":174,"p":1.0},{"m":12,"h":186,"p":0},{"m":12,"h":228,"p":0},{"m":12,"h":234,"p":3.0},{"m":12,"h":240,"p":9.5},{"m":12,"h":246,"p":2.0},{"m":12,"h":252,"p":0},{"m":12,"h":276,"p":0},{"m":12,"h":282,"p":3.0},{"m":12,"h":288,"p":10.3},{"m":12,"h":294,"p":3.0},{"m":12,"h":300,"p":0.5},{"m":12,"h":312,"p":0},{"m":12,"h":360,"p":0},
{"m":13,"h":0,"p":1.8},{"m":13,"h":12,"p":0},{"m":13,"h":156,"p":0},{"m":13,"h":162,"p":1.0},{"m":13,"h":168,"p":23.9},{"m":13,"h":174,"p":16.0},{"m":13,"h":180,"p":3.0},{"m":13,"h":192,"p":0},{"m":13,"h":252,"p":0},{"m":13,"h":264,"p":1.5},{"m":13,"h":276,"p":0},{"m":13,"h":360,"p":0},
{"m":16,"h":0,"p":3.0},{"m":16,"h":6,"p":0.8},{"m":16,"h":12,"p":0},{"m":16,"h":144,"p":0},{"m":16,"h":156,"p":1.5},{"m":16,"h":168,"p":0},{"m":16,"h":240,"p":0},{"m":16,"h":246,"p":2.0},{"m":16,"h":252,"p":6.0},{"m":16,"h":258,"p":1.5},{"m":16,"h":270,"p":0},{"m":16,"h":360,"p":0},
{"m":17,"h":0,"p":0.5},{"m":17,"h":12,"p":0},{"m":17,"h":168,"p":0},{"m":17,"h":180,"p":2.5},{"m":17,"h":192,"p":0.5},{"m":17,"h":204,"p":0},{"m":17,"h":252,"p":0},{"m":17,"h":264,"p":1.5},{"m":17,"h":276,"p":0},{"m":17,"h":348,"p":0},{"m":17,"h":360,"p":1.0},
{"m":20,"h":0,"p":1.5},{"m":20,"h":12,"p":0},{"m":20,"h":150,"p":0},{"m":20,"h":156,"p":2.0},{"m":20,"h":162,"p":31.5},{"m":20,"h":168,"p":1.0},{"m":20,"h":180,"p":0},{"m":20,"h":216,"p":0},{"m":20,"h":228,"p":1.0},{"m":20,"h":240,"p":0},{"m":20,"h":276,"p":0},{"m":20,"h":282,"p":3.0},{"m":20,"h":288,"p":11.0},{"m":20,"h":294,"p":4.0},{"m":20,"h":300,"p":0.5},{"m":20,"h":312,"p":0},{"m":20,"h":360,"p":0},
{"m":21,"h":0,"p":2.2},{"m":21,"h":6,"p":0.5},{"m":21,"h":12,"p":0},{"m":21,"h":132,"p":0},{"m":21,"h":138,"p":3.7},{"m":21,"h":144,"p":4.8},{"m":21,"h":150,"p":1.0},{"m":21,"h":162,"p":0},{"m":21,"h":204,"p":0},{"m":21,"h":216,"p":1.5},{"m":21,"h":228,"p":0},{"m":21,"h":252,"p":0},{"m":21,"h":264,"p":2.5},{"m":21,"h":276,"p":0.5},{"m":21,"h":288,"p":0},{"m":21,"h":360,"p":0},
{"m":23,"h":0,"p":1.0},{"m":23,"h":12,"p":0},{"m":23,"h":168,"p":0},{"m":23,"h":174,"p":2.0},{"m":23,"h":180,"p":12.5},{"m":23,"h":186,"p":2.0},{"m":23,"h":198,"p":0},{"m":23,"h":240,"p":0},{"m":23,"h":252,"p":3.0},{"m":23,"h":264,"p":0.5},{"m":23,"h":276,"p":0},{"m":23,"h":288,"p":0},{"m":23,"h":300,"p":5.5},{"m":23,"h":312,"p":1.0},{"m":23,"h":324,"p":0},{"m":23,"h":336,"p":0},{"m":23,"h":342,"p":3.0},{"m":23,"h":348,"p":5.0},{"m":23,"h":354,"p":2.0},{"m":23,"h":360,"p":1.0},
{"m":24,"h":0,"p":0.8},{"m":24,"h":12,"p":0},{"m":24,"h":162,"p":0},{"m":24,"h":174,"p":1.5},{"m":24,"h":186,"p":0},{"m":24,"h":228,"p":0},{"m":24,"h":240,"p":2.0},{"m":24,"h":252,"p":0},{"m":24,"h":360,"p":0},
{"m":25,"h":0,"p":1.2},{"m":25,"h":12,"p":0},{"m":25,"h":144,"p":0},{"m":25,"h":150,"p":2.5},{"m":25,"h":156,"p":0.5},{"m":25,"h":168,"p":0},{"m":25,"h":216,"p":0},{"m":25,"h":228,"p":1.5},{"m":25,"h":240,"p":0},{"m":25,"h":312,"p":0},{"m":25,"h":324,"p":2.5},{"m":25,"h":336,"p":0.5},{"m":25,"h":348,"p":0},{"m":25,"h":360,"p":0},
{"m":26,"h":0,"p":0.7},{"m":26,"h":12,"p":0},{"m":26,"h":192,"p":0},{"m":26,"h":204,"p":1.0},{"m":26,"h":216,"p":0},{"m":26,"h":294,"p":0},{"m":26,"h":300,"p":4.0},{"m":26,"h":306,"p":17.5},{"m":26,"h":312,"p":6.0},{"m":26,"h":318,"p":0.5},{"m":26,"h":330,"p":0},{"m":26,"h":360,"p":0},
{"m":27,"h":0,"p":2.8},{"m":27,"h":6,"p":0.6},{"m":27,"h":12,"p":0},{"m":27,"h":180,"p":0},{"m":27,"h":192,"p":1.5},{"m":27,"h":198,"p":5.0},{"m":27,"h":204,"p":1.0},{"m":27,"h":216,"p":0},{"m":27,"h":252,"p":0},{"m":27,"h":264,"p":1.5},{"m":27,"h":276,"p":0.5},{"m":27,"h":288,"p":0},{"m":27,"h":348,"p":0},{"m":27,"h":354,"p":5.0},{"m":27,"h":360,"p":2.5},
{"m":30,"h":0,"p":4.7},{"m":30,"h":6,"p":1.0},{"m":30,"h":12,"p":0},{"m":30,"h":138,"p":0},{"m":30,"h":144,"p":19.3},{"m":30,"h":150,"p":2.5},{"m":30,"h":162,"p":0},{"m":30,"h":204,"p":0},{"m":30,"h":210,"p":3.0},{"m":30,"h":216,"p":10.3},{"m":30,"h":222,"p":2.5},{"m":30,"h":234,"p":0},{"m":30,"h":264,"p":0},{"m":30,"h":270,"p":2.0},{"m":30,"h":276,"p":7.5},{"m":30,"h":282,"p":3.0},{"m":30,"h":294,"p":0},{"m":30,"h":360,"p":0},
{"m":33,"h":0,"p":1.0},{"m":33,"h":12,"p":0},{"m":33,"h":132,"p":0},{"m":33,"h":138,"p":2.0},{"m":33,"h":144,"p":22.9},{"m":33,"h":150,"p":3.0},{"m":33,"h":156,"p":1.0},{"m":33,"h":168,"p":0},{"m":33,"h":228,"p":0},{"m":33,"h":234,"p":22.5},{"m":33,"h":240,"p":4.0},{"m":33,"h":246,"p":0.5},{"m":33,"h":258,"p":0},{"m":33,"h":360,"p":0},
{"m":39,"h":0,"p":4.0},{"m":39,"h":6,"p":1.0},{"m":39,"h":12,"p":0},{"m":39,"h":144,"p":0},{"m":39,"h":150,"p":2.0},{"m":39,"h":156,"p":8.0},{"m":39,"h":162,"p":1.5},{"m":39,"h":168,"p":3.0},{"m":39,"h":174,"p":7.9},{"m":39,"h":180,"p":2.0},{"m":39,"h":192,"p":0},{"m":39,"h":252,"p":0},{"m":39,"h":258,"p":2.0},{"m":39,"h":264,"p":5.0},{"m":39,"h":270,"p":1.0},{"m":39,"h":282,"p":0},{"m":39,"h":306,"p":0},{"m":39,"h":312,"p":5.0},{"m":39,"h":318,"p":4.0},{"m":39,"h":324,"p":1.0},{"m":39,"h":336,"p":0},{"m":39,"h":354,"p":5.0},{"m":39,"h":360,"p":2.0},
{"m":40,"h":0,"p":1.3},{"m":40,"h":12,"p":0},{"m":40,"h":150,"p":0},{"m":40,"h":156,"p":3.5},{"m":40,"h":162,"p":1.0},{"m":40,"h":174,"p":0},{"m":40,"h":216,"p":0},{"m":40,"h":222,"p":2.0},{"m":40,"h":228,"p":0},{"m":40,"h":360,"p":0},
{"m":45,"h":0,"p":0.9},{"m":45,"h":12,"p":0},{"m":45,"h":156,"p":0},{"m":45,"h":162,"p":1.5},{"m":45,"h":168,"p":0},{"m":45,"h":264,"p":0},{"m":45,"h":276,"p":2.0},{"m":45,"h":282,"p":10.5},{"m":45,"h":288,"p":3.0},{"m":45,"h":300,"p":0},{"m":45,"h":360,"p":0},
{"m":48,"h":0,"p":1.6},{"m":48,"h":12,"p":0},{"m":48,"h":228,"p":0},{"m":48,"h":234,"p":3.0},{"m":48,"h":240,"p":16.9},{"m":48,"h":246,"p":3.0},{"m":48,"h":252,"p":0.5},{"m":48,"h":264,"p":0},{"m":48,"h":300,"p":0},{"m":48,"h":312,"p":1.0},{"m":48,"h":324,"p":0},{"m":48,"h":360,"p":0}
],
"det": [
{"s":"M","v":"a","h":0,"y":18.0},{"s":"M","v":"a","h":12,"y":16.3},{"s":"M","v":"a","h":24,"y":17.5},{"s":"M","v":"a","h":36,"y":22.1},{"s":"M","v":"a","h":48,"y":23.0},{"s":"M","v":"a","h":54,"y":21.6},{"s":"M","v":"a","h":60,"y":21.7},{"s":"M","v":"a","h":72,"y":20.4},{"s":"M","v":"a","h":84,"y":21.8},{"s":"M","v":"a","h":96,"y":23.3},{"s":"M","v":"a","h":108,"y":23.0},{"s":"M","v":"a","h":120,"y":23.3},{"s":"M","v":"a","h":126,"y":22.8},{"s":"M","v":"a","h":132,"y":23.6},{"s":"M","v":"a","h":138,"y":23.6},{"s":"M","v":"a","h":146,"y":21.6},{"s":"M","v":"a","h":156,"y":19.4},{"s":"M","v":"a","h":168,"y":17.2},{"s":"M","v":"a","h":174,"y":16.3},{"s":"M","v":"a","h":186,"y":16.3},{"s":"M","v":"a","h":198,"y":15.5},{"s":"M","v":"a","h":210,"y":16.3},{"s":"M","v":"a","h":222,"y":13.0},{"s":"M","v":"a","h":234,"y":12.7},{"s":"M","v":"a","h":246,"y":10.9},{"s":"M","v":"a","h":258,"y":11.4},{"s":"M","v":"a","h":270,"y":9.9},{"s":"M","v":"a","h":282,"y":11.5},{"s":"M","v":"a","h":294,"y":11.1},{"s":"M","v":"a","h":306,"y":12.5},{"s":"M","v":"a","h":318,"y":11.3},{"s":"M","v":"a","h":330,"y":12.0},{"s":"M","v":"a","h":342,"y":10.9},{"s":"M","v":"a","h":354,"y":12.7},{"s":"M","v":"a","h":360,"y":12.4},
{"s":"M","v":"b","h":0,"y":-12.6},{"s":"M","v":"b","h":12,"y":-11.3},{"s":"M","v":"b","h":24,"y":-11.1},{"s":"M","v":"b","h":36,"y":-12.2},{"s":"M","v":"b","h":48,"y":-11.3},{"s":"M","v":"b","h":60,"y":-11.6},{"s":"M","v":"b","h":72,"y":-10.1},{"s":"M","v":"b","h":84,"y":-9.6},{"s":"M","v":"b","h":96,"y":-9.3},{"s":"M","v":"b","h":108,"y":-9.0},{"s":"M","v":"b","h":120,"y":-8.8},{"s":"M","v":"b","h":132,"y":-9.2},{"s":"M","v":"b","h":144,"y":-9.6},{"s":"M","v":"b","h":156,"y":-9.9},{"s":"M","v":"b","h":168,"y":-9.6},{"s":"M","v":"b","h":180,"y":-10.2},{"s":"M","v":"b","h":192,"y":-10.6},{"s":"M","v":"b","h":204,"y":-10.8},{"s":"M","v":"b","h":216,"y":-11.0},{"s":"M","v":"b","h":228,"y":-11.0},{"s":"M","v":"b","h":240,"y":-10.9},{"s":"M","v":"b","h":252,"y":-11.0},{"s":"M","v":"b","h":264,"y":-11.4},{"s":"M","v":"b","h":276,"y":-11.1},{"s":"M","v":"b","h":288,"y":-11.3},{"s":"M","v":"b","h":300,"y":-11.2},{"s":"M","v":"b","h":312,"y":-11.5},{"s":"M","v":"b","h":324,"y":-11.2},{"s":"M","v":"b","h":336,"y":-11.3},{"s":"M","v":"b","h":348,"y":-11.0},{"s":"M","v":"b","h":360,"y":-10.8},
{"s":"M","v":"p","h":0,"y":1.1},{"s":"M","v":"p","h":6,"y":0.5},{"s":"M","v":"p","h":12,"y":0.05},{"s":"M","v":"p","h":24,"y":0},{"s":"M","v":"p","h":132,"y":0},{"s":"M","v":"p","h":138,"y":0.2},{"s":"M","v":"p","h":142,"y":1.0},{"s":"M","v":"p","h":150,"y":0.3},{"s":"M","v":"p","h":158,"y":0.5},{"s":"M","v":"p","h":165,"y":1.6},{"s":"M","v":"p","h":171,"y":1.5},{"s":"M","v":"p","h":180,"y":1.0},{"s":"M","v":"p","h":186,"y":0.7},{"s":"M","v":"p","h":199,"y":0.3},{"s":"M","v":"p","h":212,"y":1.0},{"s":"M","v":"p","h":218,"y":0.8},{"s":"M","v":"p","h":230,"y":0.7},{"s":"M","v":"p","h":236,"y":1.6},{"s":"M","v":"p","h":240,"y":1.8},{"s":"M","v":"p","h":249,"y":1.0},{"s":"M","v":"p","h":259,"y":0.7},{"s":"M","v":"p","h":270,"y":0.3},{"s":"M","v":"p","h":281,"y":1.0},{"s":"M","v":"p","h":293,"y":0.7},{"s":"M","v":"p","h":304,"y":0.5},{"s":"M","v":"p","h":317,"y":0.5},{"s":"M","v":"p","h":329,"y":0.4},{"s":"M","v":"p","h":341,"y":0.3},{"s":"M","v":"p","h":354,"y":0.6},{"s":"M","v":"p","h":360,"y":0.4},
{"s":"C","v":"a","h":0,"y":18.0},{"s":"C","v":"a","h":12,"y":16.4},{"s":"C","v":"a","h":24,"y":17.7},{"s":"C","v":"a","h":36,"y":22.6},{"s":"C","v":"a","h":48,"y":23.5},{"s":"C","v":"a","h":54,"y":21.9},{"s":"C","v":"a","h":60,"y":22.1},{"s":"C","v":"a","h":72,"y":20.4},{"s":"C","v":"a","h":84,"y":23.0},{"s":"C","v":"a","h":90,"y":24.9},{"s":"C","v":"a","h":102,"y":24.3},{"s":"C","v":"a","h":114,"y":25.6},{"s":"C","v":"a","h":120,"y":25.1},{"s":"C","v":"a","h":126,"y":24.8},{"s":"C","v":"a","h":132,"y":26.1},{"s":"C","v":"a","h":138,"y":26.1},{"s":"C","v":"a","h":146,"y":20.6},{"s":"C","v":"a","h":156,"y":13.7},{"s":"C","v":"a","h":163,"y":12.5},{"s":"C","v":"a","h":174,"y":9.8},{"s":"C","v":"a","h":186,"y":8.7},{"s":"C","v":"a","h":198,"y":7.4},{"s":"C","v":"a","h":216,"y":19.1},{"s":"C","v":"a","h":222,"y":18.3},{"s":"C","v":"a","h":240,"y":10.1},
{"s":"C","v":"b","h":0,"y":-12.6},{"s":"C","v":"b","h":12,"y":-11.2},{"s":"C","v":"b","h":24,"y":-11.0},{"s":"C","v":"b","h":30,"y":-10.5},{"s":"C","v":"b","h":36,"y":-12.0},{"s":"C","v":"b","h":48,"y":-11.5},{"s":"C","v":"b","h":60,"y":-11.6},{"s":"C","v":"b","h":72,"y":-9.8},{"s":"C","v":"b","h":84,"y":-9.5},{"s":"C","v":"b","h":96,"y":-9.3},{"s":"C","v":"b","h":108,"y":-8.9},{"s":"C","v":"b","h":120,"y":-9.0},{"s":"C","v":"b","h":132,"y":-9.4},{"s":"C","v":"b","h":144,"y":-9.8},{"s":"C","v":"b","h":150,"y":-11.1},{"s":"C","v":"b","h":156,"y":-9.0},{"s":"C","v":"b","h":162,"y":-12.4},{"s":"C","v":"b","h":168,"y":-7.5},{"s":"C","v":"b","h":180,"y":-9.9},{"s":"C","v":"b","h":186,"y":-8.5},{"s":"C","v":"b","h":198,"y":-9.4},{"s":"C","v":"b","h":204,"y":-8.5},{"s":"C","v":"b","h":210,"y":-8.8},{"s":"C","v":"b","h":222,"y":-10.2},{"s":"C","v":"b","h":234,"y":-11.1},{"s":"C","v":"b","h":240,"y":-13.2},
{"s":"C","v":"p","h":0,"y":0.8},{"s":"C","v":"p","h":12,"y":0},{"s":"C","v":"p","h":156,"y":0},{"s":"C","v":"p","h":165,"y":1.0},{"s":"C","v":"p","h":171,"y":1.4},{"s":"C","v":"p","h":177,"y":0.2},{"s":"C","v":"p","h":186,"y":0},{"s":"C","v":"p","h":228,"y":0},{"s":"C","v":"p","h":234,"y":6.9},{"s":"C","v":"p","h":240,"y":3.9},
{"s":"K","v":"a","h":0,"y":17.8},{"s":"K","v":"a","h":12,"y":16.0},{"s":"K","v":"a","h":24,"y":17.6},{"s":"K","v":"a","h":36,"y":22.3},{"s":"K","v":"a","h":48,"y":23.6},{"s":"K","v":"a","h":60,"y":21.5},{"s":"K","v":"a","h":72,"y":20.3},{"s":"K","v":"a","h":84,"y":23.5},{"s":"K","v":"a","h":96,"y":24.5},{"s":"K","v":"a","h":108,"y":25.6},{"s":"K","v":"a","h":120,"y":25.0},{"s":"K","v":"a","h":132,"y":25.8},{"s":"K","v":"a","h":144,"y":23.0},{"s":"K","v":"a","h":151,"y":19.0},{"s":"K","v":"a","h":157,"y":18.4},{"s":"K","v":"a","h":163,"y":18.4},{"s":"K","v":"a","h":173,"y":17.4},{"s":"K","v":"a","h":180,"y":18.7},{"s":"K","v":"a","h":186,"y":19.5},{"s":"K","v":"a","h":193,"y":21.3},{"s":"K","v":"a","h":201,"y":21.2},{"s":"K","v":"a","h":206,"y":20.3},{"s":"K","v":"a","h":211,"y":17.7},{"s":"K","v":"a","h":225,"y":10.1},{"s":"K","v":"a","h":234,"y":8.2},{"s":"K","v":"a","h":246,"y":6.5},{"s":"K","v":"a","h":257,"y":8.5},{"s":"K","v":"a","h":270,"y":7.7},{"s":"K","v":"a","h":282,"y":8.9},{"s":"K","v":"a","h":294,"y":6.6},{"s":"K","v":"a","h":305,"y":8.2},{"s":"K","v":"a","h":318,"y":6.5},{"s":"K","v":"a","h":330,"y":9.2},{"s":"K","v":"a","h":341,"y":10.0},{"s":"K","v":"a","h":349,"y":12.0},{"s":"K","v":"a","h":360,"y":13.5},
{"s":"K","v":"b","h":0,"y":-12.8},{"s":"K","v":"b","h":12,"y":-11.5},{"s":"K","v":"b","h":24,"y":-11.0},{"s":"K","v":"b","h":36,"y":-12.3},{"s":"K","v":"b","h":48,"y":-11.5},{"s":"K","v":"b","h":60,"y":-11.8},{"s":"K","v":"b","h":72,"y":-10.2},{"s":"K","v":"b","h":84,"y":-9.7},{"s":"K","v":"b","h":96,"y":-9.2},{"s":"K","v":"b","h":108,"y":-8.7},{"s":"K","v":"b","h":120,"y":-8.6},{"s":"K","v":"b","h":132,"y":-9.0},{"s":"K","v":"b","h":144,"y":-9.4},{"s":"K","v":"b","h":156,"y":-10.0},{"s":"K","v":"b","h":168,"y":-10.8},{"s":"K","v":"b","h":180,"y":-11.4},{"s":"K","v":"b","h":192,"y":-11.2},{"s":"K","v":"b","h":204,"y":-12.3},{"s":"K","v":"b","h":216,"y":-11.8},{"s":"K","v":"b","h":228,"y":-12.8},{"s":"K","v":"b","h":240,"y":-10.6},{"s":"K","v":"b","h":252,"y":-9.2},{"s":"K","v":"b","h":264,"y":-10.0},{"s":"K","v":"b","h":276,"y":-11.0},{"s":"K","v":"b","h":290,"y":-12.3},{"s":"K","v":"b","h":300,"y":-13.8},{"s":"K","v":"b","h":307,"y":-13.3},{"s":"K","v":"b","h":318,"y":-10.2},{"s":"K","v":"b","h":330,"y":-7.5},{"s":"K","v":"b","h":337,"y":-6.9},{"s":"K","v":"b","h":349,"y":-7.3},{"s":"K","v":"b","h":360,"y":-7.2},
{"s":"K","v":"p","h":0,"y":0.6},{"s":"K","v":"p","h":12,"y":0},{"s":"K","v":"p","h":198,"y":0},{"s":"K","v":"p","h":204,"y":2.5},{"s":"K","v":"p","h":210,"y":4.3},{"s":"K","v":"p","h":216,"y":5.7},{"s":"K","v":"p","h":222,"y":6.2},{"s":"K","v":"p","h":227,"y":2.6},{"s":"K","v":"p","h":232,"y":0.2},{"s":"K","v":"p","h":360,"y":0}
],
"sw": [
{"m":1,"n":"01","c":1,"r":1},{"m":2,"n":"02","c":2,"r":1},{"m":3,"n":"03","c":3,"r":1},{"m":4,"n":"04","c":4,"r":1},{"m":5,"n":"05","c":5,"r":1},{"m":6,"n":"06","c":6,"r":1},{"m":7,"n":"07","c":7,"r":1},{"m":8,"n":"08","c":8,"r":1},{"m":9,"n":"09","c":9,"r":1},{"m":10,"n":"10","c":10,"r":1},{"m":11,"n":"11","c":11,"r":1},{"m":12,"n":"12","c":12,"r":1},{"m":13,"n":"13","c":13,"r":1},{"m":14,"n":"14","c":14,"r":1},{"m":15,"n":"15","c":15,"r":1},{"m":16,"n":"16","c":16,"r":1},{"m":17,"n":"17","c":17,"r":1},{"m":18,"n":"18","c":18,"r":1},{"m":19,"n":"19","c":19,"r":1},{"m":20,"n":"20","c":20,"r":1},{"m":21,"n":"21","c":21,"r":1},{"m":22,"n":"22","c":22,"r":1},{"m":23,"n":"23","c":23,"r":1},{"m":24,"n":"24","c":24,"r":1},{"m":25,"n":"25","c":25,"r":1},
{"m":26,"n":"26","c":1,"r":2},{"m":27,"n":"27","c":2,"r":2},{"m":28,"n":"28","c":3,"r":2},{"m":29,"n":"29","c":4,"r":2},{"m":30,"n":"30","c":5,"r":2},{"m":31,"n":"31","c":6,"r":2},{"m":32,"n":"32","c":7,"r":2},{"m":33,"n":"33","c":8,"r":2},{"m":34,"n":"34","c":9,"r":2},{"m":35,"n":"35","c":10,"r":2},{"m":36,"n":"36","c":11,"r":2},{"m":37,"n":"37","c":12,"r":2},{"m":38,"n":"38","c":13,"r":2},{"m":39,"n":"39","c":14,"r":2},{"m":40,"n":"40","c":15,"r":2},{"m":41,"n":"41","c":16,"r":2},{"m":42,"n":"42","c":17,"r":2},{"m":43,"n":"43","c":18,"r":2},{"m":44,"n":"44","c":19,"r":2},{"m":45,"n":"45","c":20,"r":2},{"m":46,"n":"46","c":21,"r":2},{"m":47,"n":"47","c":22,"r":2},{"m":48,"n":"48","c":23,"r":2},{"m":49,"n":"49","c":24,"r":2},{"m":50,"n":"50","c":25,"r":2}
]
},
"resolve": {"scale": {"x": "independent", "y": "independent"}},
"layer": [
{
"layer": [
{"data": {"values": [{}]}, "mark": {"type": "rule", "color": "#8c8c8c", "strokeWidth": 3.2}, "encoding": {"y": {"datum": 0, "type": "quantitative"}}},
{"data": {"values": [{}]}, "mark": {"type": "rule", "color": "#c8c8c8", "strokeWidth": 1}, "encoding": {"y": {"datum": 0, "type": "quantitative"}}},
{"data": {"name": "ens"}, "mark": {"type": "line", "strokeWidth": 1, "point": {"shape": "cross", "size": 9, "filled": true}},
 "encoding": {
  "x": {"field": "h", "type": "quantitative", "scale": {"domain": [0, 360], "nice": false, "zero": false},
   "axis": {"values": [0,24,48,72,96,120,144,168,192,216,240,264,288,312,336,360], "labelExpr": "format(13 + datum.value / 24, 'd') + '/06'", "labelAngle": 270, "labelAlign": "right", "labelBaseline": "top", "labelPadding": 3, "labelFont": "DejaVu Sans Mono", "labelFontSize": 10, "labelColor": "black", "ticks": false, "grid": true, "gridColor": "#c0c0c0", "gridWidth": 1, "domainColor": "#404040", "domainWidth": 1, "title": null, "labelOverlap": false, "labelBound": false, "labelFlush": false}},
  "y": {"field": "a", "type": "quantitative", "scale": {"domain": [-52.7, 33], "nice": false, "zero": false},
   "axis": {"values": [-45,-40,-35,-30,-25,-20,-15,-10,-5,0,5,10,15,20,25,30], "labels": false, "ticks": false, "domain": false, "grid": true, "gridColor": "#c0c0c0", "gridWidth": {"condition": {"test": "datum.value % 10 === 0", "value": 2.2}, "value": 1}, "title": "(°C)", "titleAngle": 0, "titleX": -30, "titleY": 608, "titleAlign": "left", "titleBaseline": "middle", "titleFont": "DejaVu Sans Mono", "titleFontSize": 10, "titleFontWeight": "normal", "titleColor": "black"}},
  "color": {"field": "m", "type": "nominal", "scale": {"domain": [1,2,3,4,5,6,7,8,9,10,11,12,13,14,15,16,17,18,19,20,21,22,23,24,25,26,27,28,29,30,31,32,33,34,35,36,37,38,39,40,41,42,43,44,45,46,47,48,49,50]}, "legend": null}
 }},
{"data": {"name": "ens"}, "mark": {"type": "line", "strokeWidth": 1, "point": {"shape": "cross", "size": 9, "filled": true}},
 "encoding": {
  "x": {"field": "h", "type": "quantitative"},
  "y": {"field": "b", "type": "quantitative"},
  "color": {"field": "m", "type": "nominal", "scale": {"domain": [1,2,3,4,5,6,7,8,9,10,11,12,13,14,15,16,17,18,19,20,21,22,23,24,25,26,27,28,29,30,31,32,33,34,35,36,37,38,39,40,41,42,43,44,45,46,47,48,49,50]}, "legend": null}
 }},
{"data": {"name": "det"}, "transform": [{"filter": "datum.s === 'K' && datum.v !== 'p'"}], "mark": {"type": "line", "color": "#0000ff", "strokeWidth": 3.5},
 "encoding": {"x": {"field": "h", "type": "quantitative"}, "y": {"field": "y", "type": "quantitative"}, "detail": {"field": "v"}}},
{"data": {"name": "det"}, "transform": [{"filter": "datum.s === 'C' && datum.v !== 'p'"}], "mark": {"type": "line", "color": "#000000", "strokeWidth": 3},
 "encoding": {"x": {"field": "h", "type": "quantitative"}, "y": {"field": "y", "type": "quantitative"}, "detail": {"field": "v"}}},
{"data": {"name": "det"}, "transform": [{"filter": "datum.s === 'M' && datum.v !== 'p'"}], "mark": {"type": "line", "color": "#ff0000", "strokeWidth": 4.5},
 "encoding": {"x": {"field": "h", "type": "quantitative"}, "y": {"field": "y", "type": "quantitative"}, "detail": {"field": "v"}}},
{"data": {"name": "yt"}, "mark": {"type": "text", "align": "left", "baseline": "middle", "font": "DejaVu Sans Mono", "fontSize": 10.5, "color": "black"},
 "encoding": {"x": {"datum": -16.875, "type": "quantitative"}, "y": {"field": "v", "type": "quantitative"}, "text": {"field": "l"}}},
{"data": {"name": "yt"}, "mark": {"type": "text", "align": "left", "baseline": "middle", "font": "DejaVu Sans Mono", "fontSize": 10.5, "color": "black"},
 "encoding": {"x": {"datum": 371.25, "type": "quantitative"}, "y": {"field": "v", "type": "quantitative"}, "text": {"field": "r"}}},
{"data": {"values": [{}]}, "mark": {"type": "text", "text": "Temp. 850hPa", "align": "left", "baseline": "middle", "font": "DejaVu Sans Mono", "fontSize": 10, "color": "black"}, "encoding": {"x": {"datum": 5.6, "type": "quantitative"}, "y": {"datum": 26.0, "type": "quantitative"}}},
{"data": {"values": [{}]}, "mark": {"type": "text", "text": "Temp. 500hPa", "align": "left", "baseline": "middle", "font": "DejaVu Sans Mono", "fontSize": 10, "color": "black"}, "encoding": {"x": {"datum": 5.6, "type": "quantitative"}, "y": {"datum": -8.92, "type": "quantitative"}}},
{"data": {"values": [{}]}, "mark": {"type": "text", "text": "Précipitations", "align": "left", "baseline": "middle", "font": "DejaVu Sans Mono", "fontSize": 10, "color": "black"}, "encoding": {"x": {"datum": 5.6, "type": "quantitative"}, "y": {"datum": -38.97, "type": "quantitative"}}},
{"data": {"values": [{}]}, "mark": {"type": "rule", "color": "#ff0000", "strokeWidth": 5}, "encoding": {"x": {"datum": -8.4, "type": "quantitative"}, "x2": {"datum": 9.0}, "y": {"datum": -58.21, "type": "quantitative"}}},
{"data": {"values": [{}]}, "mark": {"type": "rule", "color": "#0000ff", "strokeWidth": 5}, "encoding": {"x": {"datum": 98.4, "type": "quantitative"}, "x2": {"datum": 115.9}, "y": {"datum": -58.14, "type": "quantitative"}}},
{"data": {"values": [{}]}, "mark": {"type": "rule", "color": "#000000", "strokeWidth": 5}, "encoding": {"x": {"datum": 98.4, "type": "quantitative"}, "x2": {"datum": 115.9}, "y": {"datum": -59.57, "type": "quantitative"}}},
{"data": {"values": [{}]}, "mark": {"type": "text", "text": "Moyenne des scénarios", "align": "left", "baseline": "middle", "font": "DejaVu Sans Mono", "fontSize": 10, "color": "black"}, "encoding": {"x": {"datum": 14.06, "type": "quantitative"}, "y": {"datum": -58.14, "type": "quantitative"}}},
{"data": {"values": [{}]}, "mark": {"type": "text", "text": "Run de contrôle", "align": "left", "baseline": "middle", "font": "DejaVu Sans Mono", "fontSize": 10, "color": "black"}, "encoding": {"x": {"datum": 120.4, "type": "quantitative"}, "y": {"datum": -58.14, "type": "quantitative"}}},
{"data": {"values": [{}]}, "mark": {"type": "text", "text": "Run CEP/ECMWF", "align": "left", "baseline": "middle", "font": "DejaVu Sans Mono", "fontSize": 10, "color": "black"}, "encoding": {"x": {"datum": 120.4, "type": "quantitative"}, "y": {"datum": -59.57, "type": "quantitative"}}},
{"data": {"values": [{}]}, "mark": {"type": "text", "text": "50 Perts.", "align": "left", "baseline": "middle", "font": "DejaVu Sans Mono", "fontSize": 10, "color": "black"}, "encoding": {"x": {"datum": 179.4, "type": "quantitative"}, "y": {"datum": -60.28, "type": "quantitative"}}},
{"data": {"values": [{}]}, "mark": {"type": "rect", "fill": "white", "stroke": "black", "strokeWidth": 1}, "encoding": {"x": {"datum": -16.6, "type": "quantitative"}, "x2": {"datum": 219.4}, "y": {"datum": -62.5, "type": "quantitative"}, "y2": {"datum": -66.93}}},
{"data": {"values": [{}]}, "mark": {"type": "text", "text": "Diagramme ensembles ECMWF/CEP 0.4° sur 360h pour Toulouse", "align": "left", "baseline": "middle", "font": "DejaVu Sans Mono", "fontSize": 11.6, "fontWeight": "bold", "color": "black"}, "encoding": {"x": {"datum": -11.25, "type": "quantitative"}, "y": {"datum": -63.86, "type": "quantitative"}}},
{"data": {"values": [{}]}, "mark": {"type": "text", "text": "Températures 850hPa et 500hPa (°C) , précipitations (mm)", "align": "left", "baseline": "middle", "font": "DejaVu Sans Mono", "fontSize": 10, "color": "black"}, "encoding": {"x": {"datum": -11.25, "type": "quantitative"}, "y": {"datum": -66.0, "type": "quantitative"}}},
{"data": {"values": [{}]}, "mark": {"type": "text", "text": "Ensemble ECMWF/CEP du 13/06/2022 - 00Z", "align": "left", "baseline": "middle", "font": "DejaVu Sans Mono", "fontSize": 10, "color": "black"}, "encoding": {"x": {"datum": 225, "type": "quantitative"}, "y": {"datum": -63.57, "type": "quantitative"}}},
{"data": {"values": [{}]}, "mark": {"type": "text", "text": "Copyright 2022 Meteociel.fr - ECMWF", "align": "left", "baseline": "middle", "font": "DejaVu Sans Mono", "fontSize": 11.6, "fontWeight": "bold", "color": "black"}, "encoding": {"x": {"datum": 225, "type": "quantitative"}, "y": {"datum": -65.86, "type": "quantitative"}}}
]
},
{
"layer": [
{"data": {"name": "pr"}, "mark": {"type": "line", "strokeWidth": 1, "point": {"shape": "cross", "size": 9, "filled": true}},
 "encoding": {
  "x": {"field": "h", "type": "quantitative", "scale": {"domain": [0, 360], "nice": false, "zero": false}, "axis": null},
  "y": {"field": "p", "type": "quantitative", "scale": {"domain": [-7.7, 78], "nice": false, "zero": false},
   "axis": {"orient": "right", "values": [0, 75], "labels": false, "ticks": false, "domain": false, "grid": false, "title": "(mm)", "titleAngle": 0, "titleX": 20, "titleY": 608, "titleAlign": "left", "titleBaseline": "middle", "titleFont": "DejaVu Sans Mono", "titleFontSize": 10, "titleFontWeight": "normal", "titleColor": "black"}},
  "color": {"field": "m", "type": "nominal", "scale": {"domain": [1,2,3,4,5,6,7,8,9,10,11,12,13,14,15,16,17,18,19,20,21,22,23,24,25,26,27,28,29,30,31,32,33,34,35,36,37,38,39,40,41,42,43,44,45,46,47,48,49,50]}, "legend": null}
 }},
{"data": {"name": "det"}, "transform": [{"filter": "datum.s === 'K' && datum.v === 'p'"}], "mark": {"type": "line", "color": "#0000ff", "strokeWidth": 3.5},
 "encoding": {"x": {"field": "h", "type": "quantitative"}, "y": {"field": "y", "type": "quantitative"}}},
{"data": {"name": "det"}, "transform": [{"filter": "datum.s === 'C' && datum.v === 'p'"}], "mark": {"type": "line", "color": "#000000", "strokeWidth": 3},
 "encoding": {"x": {"field": "h", "type": "quantitative"}, "y": {"field": "y", "type": "quantitative"}}},
{"data": {"name": "det"}, "transform": [{"filter": "datum.s === 'M' && datum.v === 'p'"}], "mark": {"type": "line", "color": "#ff0000", "strokeWidth": 4.5},
 "encoding": {"x": {"field": "h", "type": "quantitative"}, "y": {"field": "y", "type": "quantitative"}}}
]
},
{
"data": {"name": "sw"},
"layer": [
{"mark": {"type": "point", "shape": "M-1,-0.6H1V0.6H-1Z", "size": 100, "filled": true, "opacity": 1, "strokeWidth": 0},
 "encoding": {
  "x": {"field": "c", "type": "quantitative", "scale": {"domain": [-34.26, 24.35], "nice": false, "zero": false}, "axis": null},
  "y": {"field": "r", "type": "quantitative", "scale": {"domain": [-107, -7.167], "reverse": true, "nice": false, "zero": false}, "axis": null},
  "color": {"field": "m", "type": "nominal", "scale": {"domain": [1,2,3,4,5,6,7,8,9,10,11,12,13,14,15,16,17,18,19,20,21,22,23,24,25,26,27,28,29,30,31,32,33,34,35,36,37,38,39,40,41,42,43,44,45,46,47,48,49,50]}, "legend": null}
 }},
{"transform": [{"filter": "datum.r === 1"}], "mark": {"type": "text", "dy": -9, "font": "DejaVu Sans Mono", "fontSize": 7, "fontWeight": "bold", "color": "black", "baseline": "middle"},
 "encoding": {"x": {"field": "c", "type": "quantitative"}, "y": {"field": "r", "type": "quantitative"}, "text": {"field": "n"}}},
{"transform": [{"filter": "datum.r === 2"}], "mark": {"type": "text", "dy": 9, "font": "DejaVu Sans Mono", "fontSize": 7, "fontWeight": "bold", "color": "black", "baseline": "middle"},
 "encoding": {"x": {"field": "c", "type": "quantitative"}, "y": {"field": "r", "type": "quantitative"}, "text": {"field": "n"}}}
]
}
]
}
